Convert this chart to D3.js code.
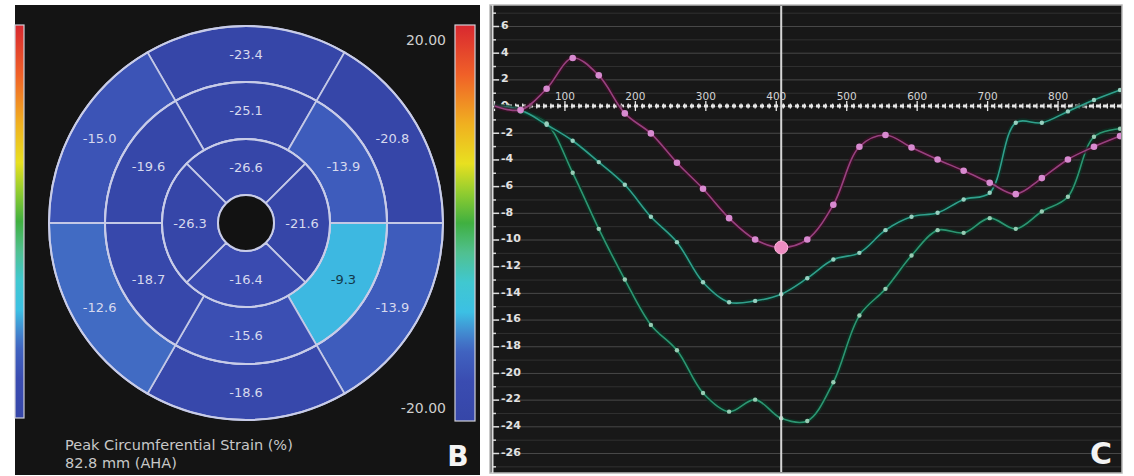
<!DOCTYPE html>
<html>
<head>
<meta charset="utf-8">
<script src="https://cdn.jsdelivr.net/npm/d3@7"></script>
<style>
  body { margin: 0; background: #fff; }
  svg { display: block; }
</style>
</head>
<body>
<svg id="fig" width="1134" height="476"></svg>
<script>
// ---------- Panel B: 16-segment bullseye (peak circumferential strain, %) ----------
// Segments listed clockwise starting at 12 o'clock
const basalValues  = [-23.4, -20.8, -13.9, -18.6, -12.6, -15.0];
const midValues    = [-25.1, -13.9, -9.3, -15.6, -18.7, -19.6];
const apicalValues = [-26.6, -21.6, -16.4, -26.3];

// Colour map stops (strain % -> colour), jet-like
const colorStops  = [-20, -16, -13, -11.5, -9, -6, -3, 0, 3, 6, 10, 15, 20];
const colorValues = ["#3646a8", "#3a4cb1", "#4063c0", "#4380cc", "#3cc0e4", "#40c8d0",
                     "#50c090", "#40b040", "#90cc30", "#e8e020", "#f0b020", "#f06028", "#d82830"];
const colorbarLabels = ["20.00", "-20.00"];
const captionLines = ["Peak Circumferential Strain (%)", "82.8 mm (AHA)"];

// ---------- Panel C: strain curves over time (ms, %) ----------
const frameTimes = [0, 37, 74, 111, 148, 185, 222, 259, 296, 333, 370, 407, 444,
                    481, 518, 555, 592, 629, 666, 703, 740, 777, 814, 851, 888];
const strainPink = [0, -0.3, 1.3, 3.6, 2.3, -0.55, -2.05, -4.25, -6.2, -8.4, -10.0, -10.6, -10.0,
                    -7.4, -3.05, -2.17, -3.1, -4.0, -4.85, -5.75, -6.6, -5.4, -4.0, -3.05, -2.25];
const strainGreenA = [0, -0.4, -1.3, -5.0, -9.2, -13.0, -16.4, -18.3, -21.5, -22.9, -22.0, -23.4, -23.6,
                      -20.7, -15.7, -13.7, -11.2, -9.3, -9.5, -8.4, -9.2, -7.9, -6.8, -2.3, -1.7];
const strainGreenB = [0, -0.3, -1.4, -2.6, -4.2, -5.9, -8.3, -10.2, -13.2, -14.7, -14.6, -14.1, -12.9,
                      -11.5, -11.0, -9.3, -8.3, -8.0, -7.0, -6.5, -1.25, -1.25, -0.4, 0.45, 1.2];
const xTickValues = [100, 200, 300, 400, 500, 600, 700, 800];
const yTickValues = [6, 4, 2, 0, -2, -4, -6, -8, -10, -12, -14, -16, -18, -20, -22, -24, -26];
const cursorTime = 407;

const svg = d3.select("#fig");

// ===================== Panel B =====================
const gB = svg.append("g");
gB.append("rect").attr("x", 15).attr("y", 5).attr("width", 465).attr("height", 470).attr("fill", "#141414");

const color = d3.scaleLinear().domain(colorStops).range(colorValues)
  .interpolate(d3.interpolateRgb).clamp(true);

const cx = 246, cy = 223;
const rHole = 28, rApex = 84, rMid = 141, rBase = 197;
const arc = d3.arc();
const deg = Math.PI / 180;

function ring(values, r0, r1, span, offset) {
  return values.map((v, i) => ({
    value: v,
    innerRadius: r0, outerRadius: r1,
    startAngle: (i * span - offset) * deg,
    endAngle: (i * span + span - offset) * deg
  }));
}
const segments = [
  ...ring(basalValues, rMid, rBase, 60, 30),
  ...ring(midValues, rApex, rMid, 60, 30),
  ...ring(apicalValues, rHole, rApex, 90, 45)
];

const bull = gB.append("g").attr("transform", `translate(${cx},${cy})`);
bull.selectAll("path.seg").data(segments).join("path")
  .attr("class", "seg")
  .attr("d", arc)
  .attr("fill", d => color(d.value))
  .attr("stroke", "#c3c8e6")
  .attr("stroke-width", 1.8);

bull.selectAll("text.val").data(segments).join("text")
  .attr("class", "val")
  .attr("transform", d => `translate(${arc.centroid(d)})`)
  .attr("text-anchor", "middle")
  .attr("dy", "0.35em")
  .attr("font-family", "DejaVu Sans, sans-serif")
  .attr("font-size", 13)
  .attr("fill", d => d3.lab(color(d.value)).l > 60 ? "#14384a" : "#d6d9ee")
  .text(d => d.value.toFixed(1));

// ring outlines and central hole
bull.selectAll("circle.ring").data([rBase, rMid, rApex]).join("circle")
  .attr("class", "ring").attr("r", d => d)
  .attr("fill", "none").attr("stroke", "#c8cce8").attr("stroke-width", 2);
bull.append("circle").attr("r", rHole).attr("fill", "#121212")
  .attr("stroke", "#c8cce8").attr("stroke-width", 2);

// colour bars
const defs = svg.append("defs");
const grad = defs.append("linearGradient").attr("id", "cbar")
  .attr("x1", 0).attr("y1", 1).attr("x2", 0).attr("y2", 0);
const gradSamples = d3.range(0, 41).map(i => -20 + i);
grad.selectAll("stop").data(gradSamples).join("stop")
  .attr("offset", d => (d + 20) / 40)
  .attr("stop-color", d => color(d));

gB.append("rect").attr("x", 15).attr("y", 25).attr("width", 9).attr("height", 393)
  .attr("fill", "url(#cbar)").attr("stroke", "#cfcfd8").attr("stroke-width", 1.2);
gB.append("rect").attr("x", 455).attr("y", 25).attr("width", 20).attr("height", 396)
  .attr("fill", "url(#cbar)").attr("stroke", "#cfcfd8").attr("stroke-width", 1.2);

gB.selectAll("text.cbl").data(colorbarLabels).join("text")
  .attr("class", "cbl")
  .attr("x", 446)
  .attr("y", (d, i) => i === 0 ? 45 : 413)
  .attr("text-anchor", "end")
  .attr("font-family", "DejaVu Sans, sans-serif")
  .attr("font-size", 14)
  .attr("fill", "#cfcfcf")
  .text(d => d);

gB.selectAll("text.cap").data(captionLines).join("text")
  .attr("class", "cap")
  .attr("x", 65)
  .attr("y", (d, i) => 450 + i * 18)
  .attr("font-family", "DejaVu Sans, sans-serif")
  .attr("font-size", 14.5)
  .attr("fill", "#c8c8c8")
  .text(d => d);

gB.append("text").attr("x", 458).attr("y", 466).attr("text-anchor", "middle")
  .attr("font-family", "DejaVu Sans, sans-serif").attr("font-weight", "bold")
  .attr("font-size", 28).attr("fill", "#f4f4f4").text("B");

// ===================== Panel C =====================
const gC = svg.append("g");
const pc = { x0: 490, y0: 5, x1: 1122, y1: 473 };
gC.append("rect").attr("x", pc.x0).attr("y", pc.y0)
  .attr("width", pc.x1 - pc.x0).attr("height", pc.y1 - pc.y0)
  .attr("fill", "#181818").attr("stroke", "#b8b8b8").attr("stroke-width", 1.5);

defs.append("clipPath").attr("id", "plotClip").append("rect")
  .attr("x", 494).attr("y", pc.y0 + 1).attr("width", pc.x1 - 494 - 1).attr("height", pc.y1 - pc.y0 - 2);

const x = d3.scaleLinear().domain([0, 900]).range([494.5, 1128.5]);
const y = d3.scaleLinear().domain([6, -26]).range([26, 453]);

// horizontal grid every 1 %
const gridVals = d3.range(-27, 8);
gC.append("g").selectAll("line").data(gridVals).join("line")
  .attr("x1", 496).attr("x2", pc.x1 - 1)
  .attr("y1", d => y(d) + 0.5).attr("y2", d => y(d) + 0.5)
  .attr("stroke", d => d % 2 === 0 ? "#484848" : "#313131")
  .attr("stroke-width", 1);

// y axis at left with ticks and labels
const yAxisG = gC.append("g");
yAxisG.append("line").attr("x1", 492.5).attr("x2", 492.5).attr("y1", pc.y0).attr("y2", pc.y1)
  .attr("stroke", "#dcdcdc").attr("stroke-width", 2);
yAxisG.selectAll("line.tk").data(gridVals).join("line").attr("class", "tk")
  .attr("x1", 492).attr("x2", d => d % 2 === 0 ? 499 : 496)
  .attr("y1", d => y(d) + 0.5).attr("y2", d => y(d) + 0.5)
  .attr("stroke", "#dcdcdc").attr("stroke-width", 1.5);
yAxisG.selectAll("text").data(yTickValues).join("text")
  .attr("x", 501).attr("y", d => y(d) - 1)
  .attr("dy", "0.35em")
  .attr("font-family", "DejaVu Sans, sans-serif").attr("font-weight", "bold")
  .attr("font-size", 11).attr("fill", "#e2e2e2")
  .text(d => d);

// time axis drawn along zero strain
const xAxisG = gC.append("g");
xAxisG.append("line").attr("x1", 494).attr("x2", pc.x1 - 1)
  .attr("y1", y(0)).attr("y2", y(0))
  .attr("stroke", "#e6e6e6").attr("stroke-width", 3).attr("stroke-dasharray", "4,3");
xAxisG.selectAll("line.mtk").data(d3.range(0, 900, 10)).join("line").attr("class", "mtk")
  .attr("x1", d => x(d)).attr("x2", d => x(d))
  .attr("y1", d => y(0) - (d % 100 === 0 ? 5 : 2.5))
  .attr("y2", d => y(0) + (d % 100 === 0 ? 5 : 2.5))
  .attr("stroke", "#e6e6e6").attr("stroke-width", 1.3);
xAxisG.selectAll("text").data(xTickValues).join("text")
  .attr("x", d => x(d)).attr("y", y(0) - 6)
  .attr("text-anchor", "middle")
  .attr("font-family", "DejaVu Sans, sans-serif")
  .attr("font-size", 10.5).attr("fill", "#d4d4d4")
  .text(d => d);

// curves
const plot = gC.append("g").attr("clip-path", "url(#plotClip)");
const line = d3.line()
  .x((d, i) => x(frameTimes[i]))
  .y(d => y(d))
  .curve(d3.curveCatmullRom.alpha(0.5));

const series = [
  { values: strainGreenA, stroke: "#2c9672", halo: "#0c3324", marker: "#98ccb4", r: 2.2 },
  { values: strainGreenB, stroke: "#30a08c", halo: "#0c3328", marker: "#98d0c0", r: 2.2 },
  { values: strainPink,   stroke: "#98407f", halo: "#3a0f26", marker: "#d88ad0", r: 3.3 }
];

series.forEach(s => {
  plot.append("path").attr("d", line(s.values))
    .attr("fill", "none").attr("stroke", s.halo).attr("stroke-width", 5).attr("stroke-opacity", 0.7);
  plot.append("path").attr("d", line(s.values))
    .attr("fill", "none").attr("stroke", s.stroke).attr("stroke-width", 1.6);
});
series.forEach(s => {
  plot.selectAll(null).data(s.values.slice(1)).join("circle")
    .attr("cx", (d, i) => x(frameTimes[i + 1]))
    .attr("cy", d => y(d))
    .attr("r", s.r)
    .attr("fill", s.marker);
});

// time cursor and highlighted frame
const ci = frameTimes.indexOf(cursorTime);
plot.append("line").attr("x1", x(cursorTime)).attr("x2", x(cursorTime))
  .attr("y1", pc.y0).attr("y2", pc.y1)
  .attr("stroke", "#d6d6d6").attr("stroke-width", 2);
plot.append("circle").attr("cx", x(cursorTime)).attr("cy", y(strainPink[ci]))
  .attr("r", 6.5).attr("fill", "#ee8cc2").attr("stroke", "#ffb6dc").attr("stroke-width", 1);

gC.append("text").attr("x", 1101).attr("y", 464).attr("text-anchor", "middle")
  .attr("font-family", "DejaVu Sans, sans-serif").attr("font-weight", "bold")
  .attr("font-size", 30).attr("fill", "#f4f4f4").text("C");
</script>
</body>
</html>
